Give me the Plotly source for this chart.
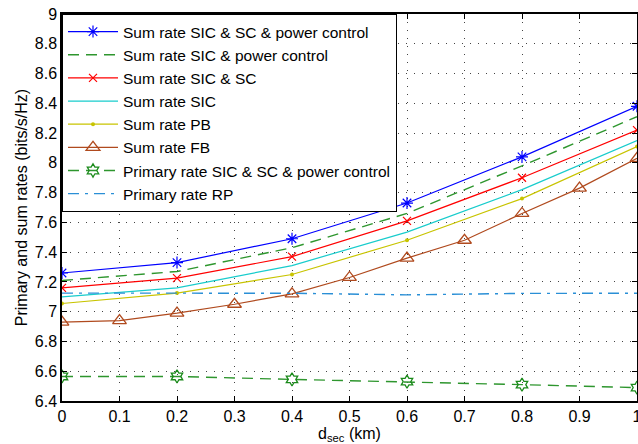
import plotly.graph_objects as go

x6 = [0, 0.2, 0.4, 0.6, 0.8, 1.0]
x11 = [0, 0.1, 0.2, 0.3, 0.4, 0.5, 0.6, 0.7, 0.8, 0.9, 1.0]

sum_sic_sc_pc = [7.26, 7.33, 7.49, 7.73, 8.04, 8.38]
sum_sic_pc = [7.21, 7.27, 7.43, 7.66, 7.98, 8.31]
sum_sic_sc = [7.16, 7.225, 7.37, 7.61, 7.90, 8.22]
sum_sic = [7.10, 7.16, 7.31, 7.535, 7.82, 8.15]
sum_pb = [7.055, 7.125, 7.25, 7.48, 7.76, 8.11]
sum_fb = [6.93, 6.94, 6.99, 7.05, 7.12, 7.23, 7.36, 7.48, 7.66, 7.83, 8.03]
prim_sic_sc_pc = [6.565, 6.565, 6.545, 6.53, 6.51, 6.49]
prim_rp = [7.125, 7.125, 7.124, 7.113, 7.123, 7.124]

names = [
    "Sum rate SIC & SC & power control",
    "Sum rate SIC & power control",
    "Sum rate SIC & SC",
    "Sum rate SIC",
    "Sum rate PB",
    "Sum rate FB",
    "Primary rate SIC & SC & power control",
    "Primary rate RP",
]

FONT = "Liberation Sans, Arial, sans-serif"

fig = go.Figure()
fig.add_trace(go.Scatter(x=x6, y=sum_sic_sc_pc, name=names[0], mode="lines+markers",
                         line=dict(color="#0000ff", width=1.2),
                         marker=dict(symbol="asterisk-open", size=10, color="#0000ff", line=dict(width=1.2, color="#0000ff"))))
fig.add_trace(go.Scatter(x=x6, y=sum_sic_pc, name=names[1], mode="lines",
                         line=dict(color="#2e962e", width=1.4, dash="11px,7px")))
fig.add_trace(go.Scatter(x=x6, y=sum_sic_sc, name=names[2], mode="lines+markers",
                         line=dict(color="#ff0000", width=1.2),
                         marker=dict(symbol="x-thin-open", size=8, color="#ff0000", line=dict(width=1.2, color="#ff0000"))))
fig.add_trace(go.Scatter(x=x6, y=sum_sic, name=names[3], mode="lines",
                         line=dict(color="#18cccc", width=1.2)))
fig.add_trace(go.Scatter(x=x6, y=sum_pb, name=names[4], mode="lines+markers",
                         line=dict(color="#c8c400", width=1.2),
                         marker=dict(symbol="circle", size=4, color="#c8c400")))
fig.add_trace(go.Scatter(x=x11, y=sum_fb, name=names[5], mode="lines+markers",
                         line=dict(color="#b04a1e", width=1.2),
                         marker=dict(symbol="triangle-up-open", size=12, color="#b04a1e", line=dict(width=1.3, color="#b04a1e"))))
fig.add_trace(go.Scatter(x=x6, y=prim_sic_sc_pc, name=names[6], mode="lines+markers",
                         line=dict(color="#2e962e", width=1.4, dash="11px,7px"),
                         marker=dict(symbol="hexagram-open", size=10, color="#1a8a1a", line=dict(width=1.3, color="#1a8a1a"))))
fig.add_trace(go.Scatter(x=x6, y=prim_rp, name=names[7], mode="lines",
                         line=dict(color="#2a8fd6", width=1.4, dash="11px,6px,3px,6px")))

axis_common = dict(
    showline=True, linecolor="black", linewidth=1.5, mirror="ticks",
    ticks="inside", ticklen=5, tickcolor="black", tickwidth=1,
    showgrid=True, gridcolor="#444", gridwidth=1, griddash="1px,7px",
    zeroline=False, automargin=False, ticklabeloverflow="allow",
    tickfont=dict(family=FONT, size=16, color="black"),
)

fig.update_xaxes(range=[0, 1], tick0=0, dtick=0.1, **axis_common,
                 title=dict(text="d<sub>sec</sub> (km)", font=dict(family=FONT, size=16, color="black"), standoff=5))
fig.update_yaxes(range=[6.4, 9], tick0=6.4, dtick=0.2, **axis_common,
                 title=dict(text="Primary and sum rates (bits/s/Hz)", font=dict(family=FONT, size=16, color="black"), standoff=3))

fig.update_layout(
    width=638, height=444,
    margin=dict(l=62, r=1, t=14, b=43),
    paper_bgcolor="white", plot_bgcolor="white",
    font=dict(family=FONT, size=16, color="black"),
    legend=dict(x=0, y=1, xanchor="left", yanchor="top",
                bgcolor="white", bordercolor="black", borderwidth=1,
                font=dict(family=FONT, size=15.5, color="black"),
                tracegroupgap=0, itemwidth=50),
    showlegend=True,
)

fig.write_html("out.html", config={"displayModeBar": False},
               post_script="document.body.style.margin='0';document.body.style.overflow='hidden';")
